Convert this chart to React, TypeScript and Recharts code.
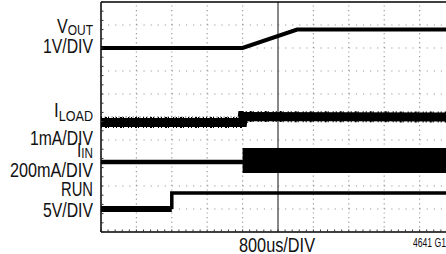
import React from 'react';
import { LineChart, Line, XAxis, YAxis, ReferenceLine } from 'recharts';

// time in divisions (0..10), level in divisions (0 = bottom graticule)
const vout = [
  { t: 0, v: 8.0 },
  { t: 4.0, v: 8.0 },
  { t: 5.54, v: 8.8 },
  { t: 10, v: 8.8 },
];
const iload = [
  { t: 0, v: 4.76 },
  { t: 4.0, v: 4.76 },
  { t: 4.02, v: 5.02 },
  { t: 10, v: 5.0 },
];
const iinIdle = [
  { t: 0, v: 3.04 },
  { t: 4.01, v: 3.04 },
];
const iinSwitching = [
  { t: 4.0, v: 3.11 },
  { t: 10, v: 3.11 },
];
const runLow = [
  { t: 0, v: 1.0 },
  { t: 2.0, v: 1.0 },
];
const runHigh = [
  { t: 2.0, v: 1.0 },
  { t: 2.0, v: 1.7 },
  { t: 10, v: 1.7 },
];

const gridX = [1, 2, 3, 4, 6, 7, 8, 9];
const gridY = [1, 2, 3, 4, 6, 7, 8, 9];
const minorTicks = Array.from({ length: 51 }, (_, i) => i / 5);

const labelFont = '"Liberation Sans", Arial, sans-serif';
const fit = { lengthAdjust: 'spacingAndGlyphs' as const };

const Labels = () => (
  <svg width={446} height={254} style={{ position: 'absolute', left: 0, top: 0, pointerEvents: 'none' }}>
    <g fontFamily={labelFont} fill="#111" fontSize={19.5} textAnchor="end">
      <text x={93} y={33} textLength={36} {...fit}>
        V<tspan fontSize={14.5} dy={2}>OUT</tspan>
      </text>
      <text x={93} y={53} textLength={50} {...fit}>1V/DIV</text>
      <text x={93} y={117} textLength={39} {...fit}>
        I<tspan fontSize={14.5} dy={4}>LOAD</tspan>
      </text>
      <text x={93} y={145} textLength={63} {...fit}>1mA/DIV</text>
      <text x={93} y={157} textLength={16} {...fit}>
        I<tspan fontSize={14.5} dy={1}>IN</tspan>
      </text>
      <text x={93} y={177} textLength={83} {...fit}>200mA/DIV</text>
      <text x={93} y={196} textLength={32} {...fit}>RUN</text>
      <text x={93} y={217} textLength={50} {...fit}>5V/DIV</text>
      <text x={277} y={252} textAnchor="middle" textLength={76} {...fit}>800us/DIV</text>
      <text x={446} y={246.5} fontSize={12.5} textLength={33} {...fit}>4641 G1</text>
    </g>
  </svg>
);

export default function App() {
  return (
    <div style={{ position: 'absolute', left: 0, top: 0, width: 446, height: 254, overflow: 'hidden', background: '#fff' }}>
      <LineChart width={460} height={254} margin={{ top: 2, right: 5, bottom: 22, left: 101 }}>
        <XAxis
          dataKey="t"
          type="number"
          domain={[0, 10]}
          ticks={minorTicks}
          tickFormatter={() => ''}
          mirror
          tickSize={2.5}
          axisLine={{ stroke: '#000', strokeWidth: 1.5 }}
          tickLine={{ stroke: '#333' }}
          allowDataOverflow
        />
        <XAxis
          xAxisId="top"
          orientation="top"
          dataKey="t"
          type="number"
          domain={[0, 10]}
          ticks={minorTicks}
          tickFormatter={() => ''}
          mirror
          tickSize={2.5}
          axisLine={{ stroke: '#000', strokeWidth: 1.5 }}
          tickLine={{ stroke: '#333' }}
        />
        <YAxis
          dataKey="v"
          type="number"
          domain={[0, 10]}
          ticks={minorTicks}
          tickFormatter={() => ''}
          mirror
          tickSize={2.5}
          axisLine={{ stroke: '#000', strokeWidth: 1.5 }}
          tickLine={{ stroke: '#333' }}
          allowDataOverflow
        />
        {gridX.map((x) => (
          <ReferenceLine key={'gx' + x} x={x} stroke="#999" strokeWidth={1.2} strokeDasharray="1.2 3.4" />
        ))}
        {gridY.map((y) => (
          <ReferenceLine key={'gy' + y} y={y} stroke="#999" strokeWidth={1.2} strokeDasharray="1.2 5.88" />
        ))}
        <ReferenceLine x={5} stroke="#111" strokeWidth={1} />
        <ReferenceLine y={5} stroke="#555" strokeWidth={1.2} strokeDasharray="1.2 2.3" />

        <Line data={vout} dataKey="v" type="linear" stroke="#000" strokeWidth={4} dot={false} isAnimationActive={false} />
        <Line data={iload} dataKey="v" type="linear" stroke="#000" strokeWidth={9} dot={false} isAnimationActive={false} />
        <Line data={iload} dataKey="v" type="linear" stroke="#000" strokeWidth={11} strokeDasharray="1 3 2 1 1 4 1 2" dot={false} isAnimationActive={false} />
        <Line data={iinIdle} dataKey="v" type="linear" stroke="#000" strokeWidth={4.5} dot={false} isAnimationActive={false} />
        <Line data={iinSwitching} dataKey="v" type="linear" stroke="#000" strokeWidth={25} dot={false} isAnimationActive={false} />
        <Line data={runLow} dataKey="v" type="linear" stroke="#000" strokeWidth={6} dot={false} isAnimationActive={false} />
        <Line data={runHigh} dataKey="v" type="linear" stroke="#000" strokeWidth={3.5} dot={false} isAnimationActive={false} />
      </LineChart>
      <Labels />
    </div>
  );
}
